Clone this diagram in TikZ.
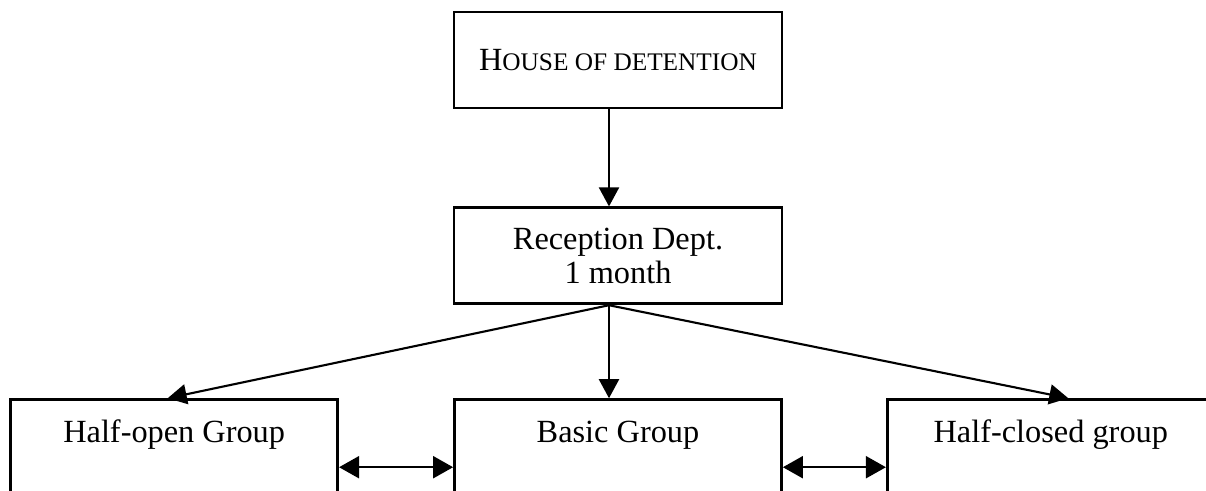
\documentclass[tikz,border=0pt]{standalone}
\usepackage{fontspec}
\setmainfont{Liberation Serif}
\usepackage{tikz}
\usetikzlibrary{positioning}
\usetikzlibrary{arrows.meta}

\begin{document}
\begin{tikzpicture}[
                font = \fontsize{9.2}{9.7}\selectfont,
                box/.style = {
                    draw,
                    line width = 0.8pt,
                    minimum width = 3.28cm,
                    minimum height = 0.96cm,
                    align = center
                },
                group/.style = {
                    draw,
                    line width = 0.8pt,
                    minimum width = 3.27cm,
                    inner sep = 0pt,
                    text height = 0.43cm,
                    text depth = 0.8cm
                },
                arr/.style = {
                    line width = 0.6pt,
                    -{Triangle[length=0.19cm, width=0.2cm]}
                },
                dbl/.style = {
                    line width = 0.6pt,
                    {Triangle[length=0.2cm, width=0.22cm]}-{Triangle[length=0.2cm, width=0.22cm]}
                }
            ]
            \useasboundingbox (0,0) rectangle (12.06,-4.91);
            \clip (0,0) rectangle (12.06,-4.91);
            % 
            \node[box] (house) at (6.18,-0.60) {H{\fontsize{7.2}{8}\selectfont OUSE OF DETENTION}};
            \node[box, below=0.97cm of house] (recep) {Reception Dept.\\1 month};
            % 
            \node[group, below=0.93cm of recep] (basic) {Basic Group};
            \node[group, left=1.14cm of basic] (hopen) {Half-open Group};
            \node[group, right=1.03cm of basic] (hclosed) {Half-closed group};
            % 
            \draw[arr] ([xshift=-0.09cm]house.south) -- ([xshift=-0.09cm]recep.north);
            % 
            \draw[arr] ([xshift=-0.09cm]recep.south) -- ([xshift=-0.065cm]hopen.north);
            \draw[arr] ([xshift=-0.09cm]recep.south) -- ([xshift=-0.09cm]basic.north);
            \draw[arr] ([xshift=-0.09cm]recep.south) -- ([xshift=0.175cm]hclosed.north);
            % 
            \draw[dbl] ([yshift=-0.69cm]hopen.north east) -- ([yshift=-0.69cm]basic.north west);
            \draw[dbl] ([yshift=-0.69cm]basic.north east) -- ([yshift=-0.69cm]hclosed.north west);
            % 
        \end{tikzpicture}
\end{document}
